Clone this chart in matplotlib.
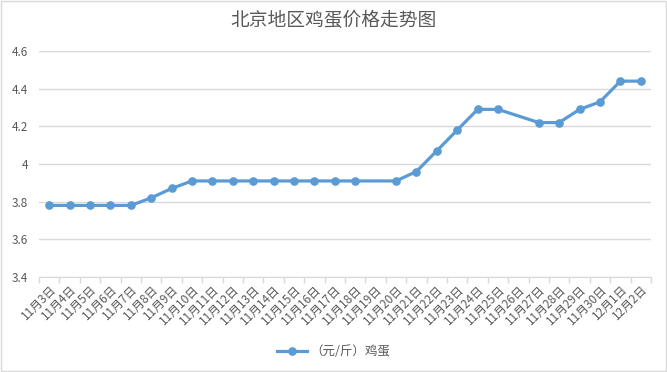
import matplotlib
matplotlib.use("Agg")
import matplotlib.pyplot as plt
from matplotlib.patches import Rectangle

plt.rcParams["font.family"] = ["Noto Sans CJK SC", "DejaVu Sans"]

# dates on the x axis
dates = ["11月3日", "11月4日", "11月5日", "11月6日", "11月7日", "11月8日",
         "11月9日", "11月10日", "11月11日", "11月12日", "11月13日", "11月14日",
         "11月15日", "11月16日", "11月17日", "11月18日", "11月19日", "11月20日",
         "11月21日", "11月22日", "11月23日", "11月24日", "11月25日", "11月26日",
         "11月27日", "11月28日", "11月29日", "11月30日", "12月1日", "12月2日"]

# egg price (yuan / jin), None = no data that day
prices = [3.78, 3.78, 3.78, 3.78, 3.78, 3.82, 3.87, 3.91, 3.91, 3.91,
          3.91, 3.91, 3.91, 3.91, 3.91, 3.91, None, 3.91, 3.96, 4.07,
          4.18, 4.29, 4.29, None, 4.22, 4.22, 4.29, 4.33, 4.44, 4.44]

yticks = [3.4, 3.6, 3.8, 4, 4.2, 4.4, 4.6]
ytick_labels = ["3.4", "3.6", "3.8", "4", "4.2", "4.4", "4.6"]

text_color = "#595959"
grid_color = "#d9d9d9"
line_color = "#5b9bd5"

fig = plt.figure(figsize=(6.67, 3.72), dpi=100)
ax = fig.add_axes([0.0585, 0.2554, 0.9175, 0.6075])

# skip the missing days so the line joins across them
xs = [i for i, p in enumerate(prices) if p is not None]
ys = [p for p in prices if p is not None]
ax.plot(xs, ys, color=line_color, linewidth=2.3, marker="o", markersize=5.2,
        label="（元/斤）鸡蛋", zorder=3)

ax.set_xlim(-0.5, len(dates) - 0.5)
ax.set_ylim(3.4, 4.6)
ax.set_yticks(yticks)
ax.set_yticklabels(ytick_labels)
ax.yaxis.grid(True, color=grid_color, linewidth=1)
ax.set_axisbelow(True)

# tick marks between categories, labels in the middle
ax.set_xticks([i - 0.5 for i in range(len(dates) + 1)])
ax.set_xticklabels([])
ax.set_xticks(range(len(dates)), minor=True)
ax.set_xticklabels(dates, minor=True, rotation=45, ha="right",
                   rotation_mode="anchor", fontsize=8.5, color=text_color)
ax.tick_params(axis="x", which="major", length=4, color=grid_color, width=1)
ax.tick_params(axis="x", which="minor", length=0, pad=4)
ax.tick_params(axis="y", length=0, labelsize=8.5, labelcolor=text_color, pad=8)

for side in ["top", "right", "left"]:
    ax.spines[side].set_visible(False)
ax.spines["bottom"].set_color(grid_color)

fig.text(0.5, 0.945, "北京地区鸡蛋价格走势图", ha="center", va="center",
         fontsize=13.5, color=text_color)

leg = fig.legend(loc="center", bbox_to_anchor=(0.5, 0.054), frameon=False,
                 fontsize=9, handlelength=2.4, handletextpad=0.2)
for t in leg.get_texts():
    t.set_color(text_color)

# light outer frame
fig.patches.append(Rectangle((0.0015, 0.0027), 0.997, 0.9946, transform=fig.transFigure,
                             fill=False, edgecolor=grid_color, linewidth=1))

fig.savefig("out.png", dpi=100)
